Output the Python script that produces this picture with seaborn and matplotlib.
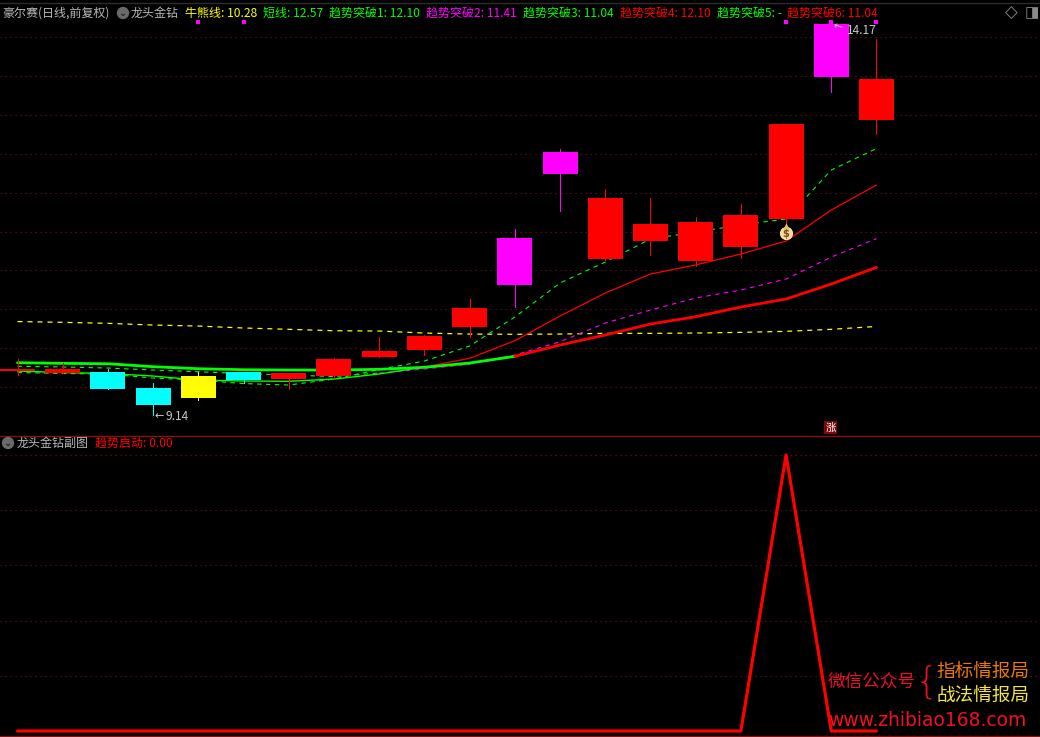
"""Stock chart: 龙头金钻 daily candles with the 趋势启动 sub panel."""

from __future__ import annotations

import numpy as np
import pandas as pd
import matplotlib

matplotlib.use("Agg")
import matplotlib.pyplot as plt
import seaborn as sns

W, H = 1040, 737
RED = "#ff0000"
GREEN = "#00ff00"
MAGENTA = "#ff00ff"
CYAN = "#00ffff"
YELLOW = "#ffff00"
GRID = "#741818"
GREY = "#c8c8c8"

body_top = [9.732, 9.732, 9.693, 9.487, 9.642, 9.693, 9.681, 9.861, 9.964, 10.157,
            10.517, 11.418, 12.525, 11.933, 11.598, 11.624, 11.714, 12.885, 14.17, 13.464]
body_bottom = [9.706, 9.681, 9.475, 9.269, 9.359, 9.590, 9.603, 9.642, 9.886, 9.977,
               10.273, 10.813, 12.242, 11.148, 11.379, 11.122, 11.302, 11.663, 13.49, 12.937]
high = [9.861, 9.809, 9.732, 9.552, 9.693, 9.693, 9.681, 9.874, 10.144, 10.17,
        10.633, 11.534, 12.563, 12.049, 11.933, 11.688, 11.856, 12.885, 14.17, 13.979]
low = [9.655, 9.681, 9.475, 9.14, 9.333, 9.552, 9.475, 9.616, 9.886, 9.912,
       10.144, 10.53, 11.765, 11.135, 11.199, 11.058, 11.161, 11.585, 13.297, 12.756]
candle_colors = [RED, RED, CYAN, CYAN, YELLOW, CYAN, RED, RED, RED, RED,
                 RED, MAGENTA, MAGENTA, RED, RED, RED, RED, RED, MAGENTA, RED]

bull_bear = [10.343, 10.333, 10.320, 10.298, 10.285, 10.260, 10.243, 10.225, 10.221, 10.195,
             10.182, 10.179, 10.182, 10.191, 10.191, 10.195, 10.204, 10.217, 10.243, 10.28]
short_line = [9.687, 9.674, 9.668, 9.616, 9.590, 9.545, 9.526, 9.603, 9.726, 9.835,
              10.028, 10.401, 10.839, 11.109, 11.405, 11.495, 11.585, 11.663, 12.293, 12.57]
breakout_1 = [9.706, 9.687, 9.674, 9.642, 9.590, 9.578, 9.574, 9.603, 9.668, 9.758,
              9.870, 10.096, 10.414, 10.710, 10.955, 11.071, 11.212, 11.379, 11.778, 12.10]
breakout_2 = [9.767, 9.758, 9.745, 9.719, 9.697, 9.674, 9.655, 9.635, 9.681, 9.732,
              9.796, 9.912, 10.083, 10.324, 10.491, 10.646, 10.749, 10.890, 11.173, 11.41]
breakout_3 = [9.813, 9.805, 9.800, 9.762, 9.736, 9.723, 9.719, 9.719, 9.728, 9.754,
              9.809, 9.895, 10.041, 10.170, 10.311, 10.405, 10.530, 10.633, 10.826, 11.04]
trend_start = [0, 0, 0, 0, 0, 0, 0, 0, 0, 0, 0, 0, 0, 0, 0, 0, 0, 100, 0, 0]

price_ticks = [9.5, 10.0, 10.5, 11.0, 11.5, 12.0, 12.5, 13.0, 13.5, 14.0]
sub_ticks = [20, 40, 60, 80, 100]
top_dot_bars = [4, 5, 17, 18, 19]
top_dot_price = 14.194
money_bar = 17
money_price = 11.482

# one entry per header item: text, colour, left pixel
header_items = [
    ("牛熊线: 10.28", YELLOW, 185),
    ("短线: 12.57", GREEN, 263),
    ("趋势突破1: 12.10", GREEN, 329),
    ("趋势突破2: 11.41", MAGENTA, 426),
    ("趋势突破3: 11.04", GREEN, 523),
    ("趋势突破4: 12.10", RED, 620),
    ("趋势突破5: -", GREEN, 717),
    ("趋势突破6: 11.04", RED, 787),
]

sns.set_theme(style="dark", rc={
    "figure.facecolor": "black",
    "axes.facecolor": "black",
    "savefig.facecolor": "black",
})
plt.rcParams["font.family"] = ["Noto Sans CJK SC", "DejaVu Sans"]

bars = np.arange(len(body_top))
prices = pd.DataFrame({
    "bar": bars,
    "bull_bear": bull_bear,
    "short": short_line,
    "b1": breakout_1,
    "b2": breakout_2,
    "b3": breakout_3,
    "trend": trend_start,
})


def px(x: float, y: float) -> tuple[float, float]:
    return x / W, 1 - y / H


def label(x: float, y: float, text: str, color: str, size: float = 8.65, **kw) -> None:
    fig.text(*px(x, y), text, color=color, fontsize=size, va="center", **kw)


def chevron(x: float, y: float) -> None:
    fig.text(*px(x, y), "⌄", color="#111111", fontsize=7, ha="center", va="center",
             family="DejaVu Sans", zorder=6,
             bbox={"boxstyle": "circle,pad=0.12", "fc": "#6a6a6a", "ec": "none"})


fig = plt.figure(figsize=(W / 100, H / 100), dpi=100)
ax = fig.add_axes([0, 1 - 435 / H, 1, 435 / H])
sub = fig.add_axes([0, 0, 1, (H - 435) / H])

# bar 0 sits near pixel 17.5 and bars are 45.21 px apart
x_lim = (-17.5 / 45.21, (W - 17.5) / 45.21)
for a in (ax, sub):
    a.set_xlim(*x_lim)
    a.tick_params(length=0, labelbottom=False, labelleft=False)
    a.grid(False)
    for spine in a.spines.values():
        spine.set_visible(False)
ax.set_ylim(8.883, 14.481)
sub.set_ylim(-2.17, 107.2)

ax.hlines(price_ticks, *x_lim, color=GRID, lw=0.8, linestyles=(0, (1, 3.5)), zorder=1)
sub.hlines(sub_ticks, *x_lim, color=GRID, lw=0.8, linestyles=(0, (1, 3.5)), zorder=1)


def draw_line(col: str, start: int, stop: int, color: str, lw: float, dash=None) -> None:
    part = prices.iloc[start:stop + 1]
    sns.lineplot(data=part, x="bar", y=col, ax=ax, color=color, linewidth=lw,
                 linestyle=dash if dash else "-", errorbar=None, zorder=2)


DASH = (0, (4, 4))
draw_line("bull_bear", 0, 19, YELLOW, 0.9, DASH)
draw_line("short", 0, 19, GREEN, 0.8, DASH)
draw_line("b2", 0, 8, GREEN, 0.8, DASH)
draw_line("b2", 8, 19, MAGENTA, 0.8, DASH)
draw_line("b1", 0, 9, GREEN, 1.0)
draw_line("b1", 9, 19, RED, 0.9)
draw_line("b3", 0, 11, GREEN, 2.0)
draw_line("b3", 11, 19, RED, 2.0)
ax.set_xlim(*x_lim)
ax.set_xlabel("")
ax.set_ylabel("")

ax.vlines(bars, low, high, colors=candle_colors, lw=0.72, antialiased=False, zorder=3)
ax.bar(bars, np.subtract(body_top, body_bottom), bottom=body_bottom, width=35 / 45.21,
       color=candle_colors, linewidth=0, zorder=4)

ax.scatter(top_dot_bars, [top_dot_price] * len(top_dot_bars), marker="s", s=5,
           color=MAGENTA, linewidths=0, zorder=6)

# money bag marker under bar 17
ax.scatter([money_bar], [money_price], s=78, color="#f6dc8e", edgecolors="#fff6c8",
           linewidths=0.6, zorder=6)
ax.scatter([money_bar], [money_price + 0.095], s=22, marker="^", color="#e8c060",
           linewidths=0, zorder=6)
ax.text(money_bar, money_price - 0.01, "$", color="#7a4a20", fontsize=7, fontweight="bold",
        ha="center", va="center", family="DejaVu Sans", zorder=7)

sns.lineplot(data=prices, x="bar", y="trend", ax=sub, color=RED, linewidth=2.3,
             errorbar=None, zorder=3)
sub.set_xlim(*x_lim)
sub.set_xlabel("")
sub.set_ylabel("")

# panel separator, bottom edge and top strip
fig.add_artist(plt.Line2D([0, 1], [1 - 435.5 / H] * 2, color="#8a1010", lw=1))
fig.add_artist(plt.Line2D([0, 1], [1 - 736 / H] * 2, color="#8a1010", lw=1))
fig.add_artist(plt.Line2D([0, 1], [1 - 3 / H] * 2, color="#2c2c2c", lw=1))

# high and low labels
label(166, 417, "9.14", GREY)
fig.text(*px(159, 416), "←", color=GREY, fontsize=8, ha="center", va="center", family="DejaVu Sans")
label(847, 30, "14.17", GREY)
fig.text(*px(838, 26.5), "←", color=GREY, fontsize=8, ha="center", va="center",
         family="DejaVu Sans", rotation=-18, zorder=8)

# header row
label(2, 13, "豪尔赛(日线,前复权)", "#b8b8b8")
chevron(123, 13)
label(131, 13, "龙头金钻", "#b8b8b8")
for text, color, left in header_items:
    label(left, 13, text, color)

fig.text(*px(1011, 13), "◇", color="#8a8a8a", fontsize=12, ha="center", va="center", family="DejaVu Sans")
fig.text(*px(1032, 13), "◨", color="#8a8a8a", fontsize=11, ha="center", va="center", family="DejaVu Sans")

# sub panel header
chevron(8, 443)
label(17, 443, "龙头金钻副图", "#b8b8b8")
label(95, 443, "趋势启动: 0.00", RED)

# rise badge just above the panel line
fig.text(*px(830.5, 427.5), "涨", color="white", fontsize=7.5, ha="center", va="center", zorder=7,
         bbox={"boxstyle": "square,pad=0.12", "fc": "#7a0a0a", "ec": "none"})

# watermark
label(828, 683, "微信公众号", "#e8102a", 12.7)
fig.text(*px(927, 682), "{", color="#e8102a", fontsize=27, ha="center", va="center",
         family="DejaVu Sans", fontweight="ultralight")
label(936, 672, "指标情报局", "#e87a08", 13.4)
label(937, 696, "战法情报局", "#f2e64a", 13.4)
label(828, 721, "www.zhibiao168.com", "#f0101e", 13.5, family="DejaVu Sans")

fig.savefig("out.png", dpi=100)
